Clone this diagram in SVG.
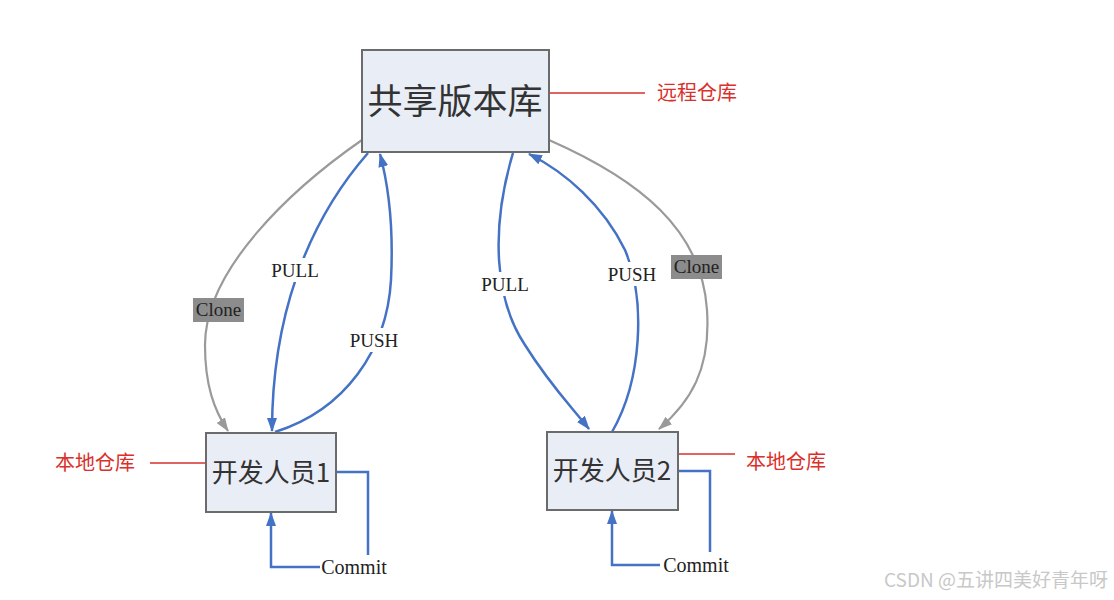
<svg xmlns="http://www.w3.org/2000/svg" width="1114" height="600" viewBox="0 0 1114 600">
<style>
.box{fill:#e9edf6;stroke:#6b6b6b;stroke-width:2}
.cjk{font-family:"Noto Sans CJK SC","Noto Sans",sans-serif;fill:#333}
.red{font-family:"Noto Sans CJK SC",sans-serif;fill:#d9302c;font-size:20px}
.redline{stroke:#d9302c;stroke-width:1.5;fill:none}
.blue{stroke:#4472c4;stroke-width:2.5;fill:none}
.gray{stroke:#9a9a9a;stroke-width:2.2;fill:none}
.lbl{font-family:"Liberation Serif",serif;font-size:19px;fill:#222}
.cm{font-family:"Liberation Serif",serif;font-size:20px;fill:#222}
</style>
<defs>
<marker id="ab" viewBox="0 0 14 10" refX="13" refY="5" markerWidth="14" markerHeight="10" markerUnits="userSpaceOnUse" orient="auto"><path d="M0,0 L14,5 L0,10 Z" fill="#4472c4"/></marker>
<marker id="ag" viewBox="0 0 14 10" refX="13" refY="5" markerWidth="14" markerHeight="10" markerUnits="userSpaceOnUse" orient="auto"><path d="M0,0 L14,5 L0,10 Z" fill="#9a9a9a"/></marker>
</defs>
<rect width="1114" height="600" fill="#fff"/>
<g id="connectors">
<path class="gray" d="M362,140 C290,190 205,270 205,345 C205,385 214,410 228,431" marker-end="url(#ag)"/>
<path class="blue" d="M368,153 C305,225 272,320 272,431" marker-end="url(#ab)"/>
<path class="blue" d="M275,432 C345,410 387,350 391,280 C394,220 387,180 380,154" marker-end="url(#ab)"/>
<path class="blue" d="M513,153 C490,230 495,300 525,345 C550,385 570,405 589,429" marker-end="url(#ab)"/>
<path class="blue" d="M612,432 C642,380 646,300 625,250 C603,205 565,172 529,154" marker-end="url(#ab)"/>
<path class="gray" d="M549,140 C640,180 702,230 707,310 C711,370 690,402 659,429" marker-end="url(#ag)"/>
<path class="blue" d="M336,472 H368 V555"/>
<path class="blue" d="M320,567 H271 V513" marker-end="url(#ab)"/>
<path class="blue" d="M678,471 H710 V552"/>
<path class="blue" d="M660,565 H612 V511" marker-end="url(#ab)"/>
<path class="redline" d="M549,93 H645"/>
<path class="redline" d="M150,463 H208"/>
<path class="redline" d="M678,454 H735"/>
</g>
<g id="labels">
<rect x="267" y="258" width="56" height="24" fill="#fff"/>
<text class="lbl" x="295" y="277" text-anchor="middle">PULL</text>
<rect x="344" y="328" width="60" height="24" fill="#fff"/>
<text class="lbl" x="374" y="347" text-anchor="middle">PUSH</text>
<rect x="477" y="272" width="56" height="24" fill="#fff"/>
<text class="lbl" x="505" y="291" text-anchor="middle">PULL</text>
<rect x="602" y="262" width="60" height="24" fill="#fff"/>
<text class="lbl" x="632" y="281" text-anchor="middle">PUSH</text>
<rect x="193" y="298" width="51" height="24" fill="#8c8c8c"/>
<text class="lbl" x="218.5" y="316" text-anchor="middle">Clone</text>
<rect x="671" y="255" width="51" height="24" fill="#8c8c8c"/>
<text class="lbl" x="696.5" y="273" text-anchor="middle">Clone</text>
<text class="cm" x="354" y="574" text-anchor="middle">Commit</text>
<text class="cm" x="696" y="572" text-anchor="middle">Commit</text>
<text class="red" x="657" y="100">远程仓库</text>
<text class="red" x="55" y="470">本地仓库</text>
<text class="red" x="746" y="469">本地仓库</text>
</g>
<g id="repo">
<rect class="box" x="362" y="50" width="187" height="102"/>
<text class="cjk" x="455" y="114" font-size="35" text-anchor="middle">共享版本库</text>
</g>
<g id="dev1">
<rect class="box" x="206" y="433" width="130" height="79"/>
<text class="cjk" x="271" y="482" font-size="26" text-anchor="middle">开发人员1</text>
</g>
<g id="dev2">
<rect class="box" x="547" y="432" width="131" height="78"/>
<text class="cjk" x="612" y="480" font-size="26" text-anchor="middle">开发人员2</text>
</g>
<text x="1108" y="587" text-anchor="end" font-family="'Noto Sans CJK SC',sans-serif" font-size="19" fill="#c8c8c8">CSDN @五讲四美好青年呀</text>
</svg>
